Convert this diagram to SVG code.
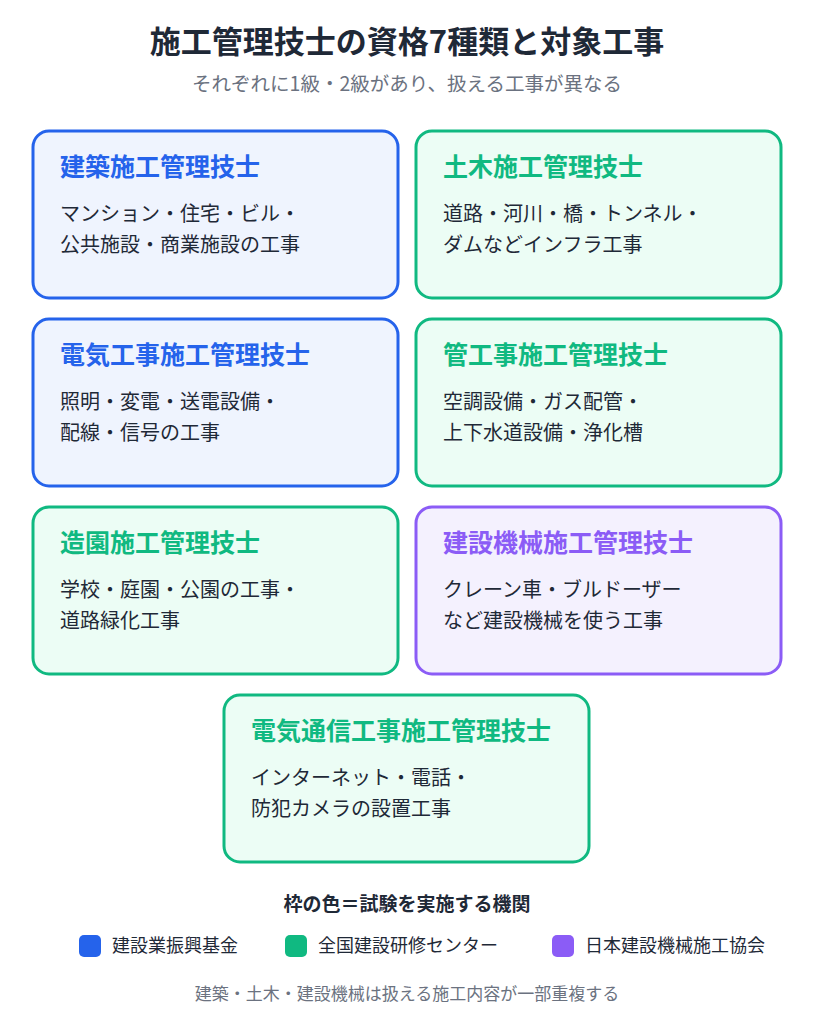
<svg xmlns="http://www.w3.org/2000/svg" width="814" height="1024" viewBox="0 0 814 1024">
<style>
text{font-family:"Noto Sans CJK JP","Noto Sans",sans-serif}
.t{font-size:31px;font-weight:700;fill:#1f2937}
.s{font-size:19.5px;fill:#6b7280}
.f{font-size:17px;fill:#6b7280}
.h{font-size:25px;font-weight:700}
.b{font-size:20px;fill:#1f2937}
.blue rect{fill:#eff4fe;stroke:#2563eb;stroke-width:3}
.blue .h{fill:#2563eb}
.green rect{fill:#ecfdf5;stroke:#10b981;stroke-width:3}
.green .h{fill:#10b981}
.purple rect{fill:#f4f1fe;stroke:#8b5cf6;stroke-width:3}
.purple .h{fill:#8b5cf6}
.lg{font-size:18px;fill:#1f2937}
</style>
<rect width="814" height="1024" fill="#fff"/>
<text class="t" x="407" y="53" text-anchor="middle">施工管理技士の資格7種類と対象工事</text>
<text class="s" x="407" y="91" text-anchor="middle">それぞれに1級・2級があり、扱える工事が異なる</text>
<g id="n1" class="blue"><rect x="33" y="131" width="365" height="167" rx="16"/><text class="h" x="60" y="176">建築施工管理技士</text><text class="b" x="60" y="221">マンション・住宅・ビル・</text><text class="b" x="60" y="252">公共施設・商業施設の工事</text></g>
<g id="n2" class="green"><rect x="416" y="131" width="365" height="167" rx="16"/><text class="h" x="443" y="176">土木施工管理技士</text><text class="b" x="443" y="221">道路・河川・橋・トンネル・</text><text class="b" x="443" y="252">ダムなどインフラ工事</text></g>
<g id="n3" class="blue"><rect x="33" y="319" width="365" height="167" rx="16"/><text class="h" x="60" y="364">電気工事施工管理技士</text><text class="b" x="60" y="409">照明・変電・送電設備・</text><text class="b" x="60" y="440">配線・信号の工事</text></g>
<g id="n4" class="green"><rect x="416" y="319" width="365" height="167" rx="16"/><text class="h" x="443" y="364">管工事施工管理技士</text><text class="b" x="443" y="409">空調設備・ガス配管・</text><text class="b" x="443" y="440">上下水道設備・浄化槽</text></g>
<g id="n5" class="green"><rect x="33" y="507" width="365" height="167" rx="16"/><text class="h" x="60" y="552">造園施工管理技士</text><text class="b" x="60" y="597">学校・庭園・公園の工事・</text><text class="b" x="60" y="628">道路緑化工事</text></g>
<g id="n6" class="purple"><rect x="416" y="507" width="365" height="167" rx="16"/><text class="h" x="443" y="552">建設機械施工管理技士</text><text class="b" x="443" y="597">クレーン車・ブルドーザー</text><text class="b" x="443" y="628">など建設機械を使う工事</text></g>
<g id="n7" class="green"><rect x="224" y="695" width="365" height="167" rx="16"/><text class="h" x="251" y="740">電気通信工事施工管理技士</text><text class="b" x="251" y="785">インターネット・電話・</text><text class="b" x="251" y="816">防犯カメラの設置工事</text></g>
<g id="connectors"/>
<g id="legend">
<text x="407" y="911" text-anchor="middle" font-size="19" font-weight="700" fill="#1f2937">枠の色＝試験を実施する機関</text>
<rect x="79" y="935" width="22" height="22" rx="5" fill="#2563eb"/><text class="lg" x="112" y="952">建設業振興基金</text>
<rect x="285" y="935" width="22" height="22" rx="5" fill="#10b981"/><text class="lg" x="318" y="952">全国建設研修センター</text>
<rect x="552" y="935" width="22" height="22" rx="5" fill="#8b5cf6"/><text class="lg" x="585" y="952">日本建設機械施工協会</text>
</g>
<text class="f" x="407" y="1000" text-anchor="middle">建築・土木・建設機械は扱える施工内容が一部重複する</text>
</svg>
